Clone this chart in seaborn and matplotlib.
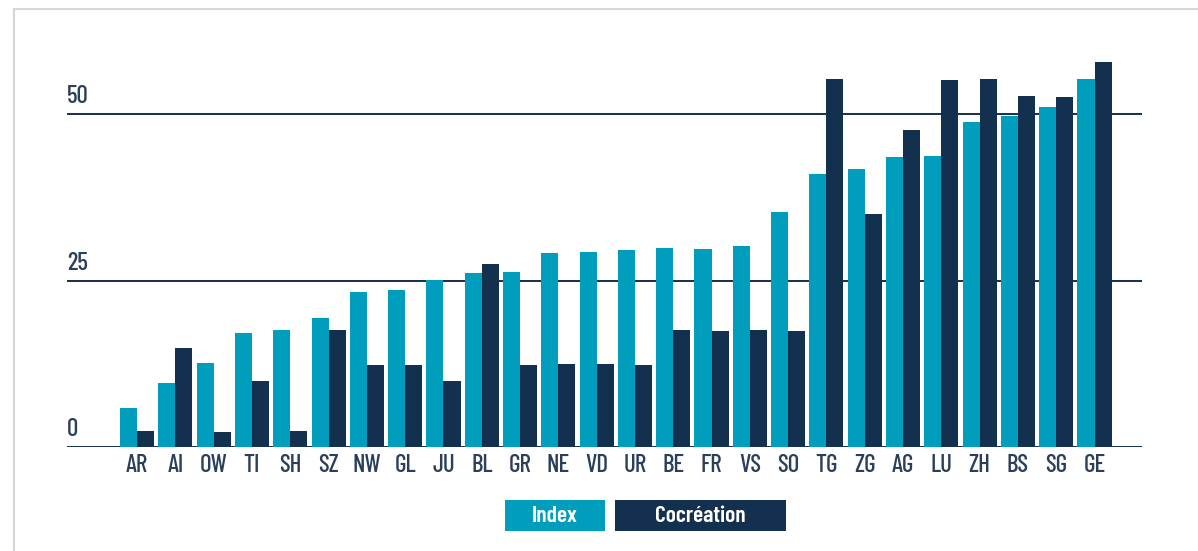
import matplotlib
matplotlib.use("Agg")
import matplotlib.pyplot as plt
import seaborn as sns
import pandas as pd
from matplotlib.patches import Rectangle
from matplotlib.lines import Line2D
from matplotlib import font_manager

cantons = ["AR", "AI", "OW", "TI", "SH", "SZ", "NW", "GL", "JU", "BL", "GR", "NE", "VD",
           "UR", "BE", "FR", "VS", "SO", "TG", "ZG", "AG", "LU", "ZH", "BS", "SG", "GE"]
index_vals = [5.9, 9.6, 12.6, 17.1, 17.6, 19.4, 23.3, 23.6, 25.1, 26.1, 26.3, 29.1, 29.3,
              29.6, 29.9, 29.7, 30.2, 35.3, 41.0, 41.7, 43.5, 43.7, 48.8, 49.7, 51.0, 55.2]
cocreation_vals = [2.4, 14.9, 2.3, 9.9, 2.4, 17.6, 12.3, 12.3, 9.9, 27.5, 12.3, 12.5, 12.5,
                   12.3, 17.6, 17.4, 17.6, 17.4, 55.2, 35.0, 47.6, 55.1, 55.2, 52.7, 52.5, 57.8]
series_names = ["Index", "Cocréation"]
y_ticks = [0, 25, 50]

C_INDEX = "#009dbd"
C_COC = "#14304f"
C_TEXT = "#2c3f5a"

sns.set_style("white")
avail = {f.name for f in font_manager.fontManager.ttflist}
font = next(f for f in ["Barlow Condensed", "Roboto Condensed", "IBM Plex Sans Condensed",
                        "Oswald", "DejaVu Sans"] if f in avail)
plt.rcParams["font.family"] = [font, "DejaVu Sans"]

df = pd.DataFrame({
    "canton": cantons * 2,
    "value": index_vals + cocreation_vals,
    "serie": [series_names[0]] * len(cantons) + [series_names[1]] * len(cantons),
})

fig = plt.figure(figsize=(11.98, 5.51), dpi=100)
W, H = 1198, 551
ax = fig.add_axes([67 / W, (H - 447.3) / H, (1142 - 67) / W, 400.2 / H])

sns.barplot(data=df, x="canton", y="value", hue="serie", order=cantons,
            hue_order=series_names, palette=[C_INDEX, C_COC], width=0.89,
            gap=0, saturation=1, edgecolor="none", linewidth=0, legend=False,
            ax=ax, zorder=3)

ax.set_xlim(-1.83, 26.24)
ax.set_ylim(0, 60)
for t in y_ticks:
    ax.axhline(t, color=C_COC, lw=1.4, zorder=1)
    ax.text(0, t + 0.9, str(t), transform=ax.get_yaxis_transform(), ha="left",
            va="bottom", fontsize=18, color=C_TEXT, fontweight=500)
ax.set_yticks([])
ax.set_xlabel("")
ax.set_ylabel("")
ax.tick_params(axis="x", length=0, pad=5, labelsize=18, labelcolor=C_TEXT)
for lab in ax.get_xticklabels():
    lab.set_fontweight(500)
for s in ax.spines.values():
    s.set_visible(False)

# figure frame (top and left edges only)
fc = "#d5d6dc"
fig.add_artist(Line2D([14 / W, 1], [(H - 9) / H] * 2, transform=fig.transFigure,
                      color=fc, lw=1.5))
fig.add_artist(Line2D([14 / W] * 2, [0, (H - 9) / H], transform=fig.transFigure,
                      color=fc, lw=1.5))

# legend boxes
boxes = [(505, 605, C_INDEX), (615, 786, C_COC)]
for (x0, x1, c), name in zip(boxes, series_names):
    fig.patches.append(Rectangle((x0 / W, (H - 531) / H), (x1 - x0) / W, 31 / H,
                                 transform=fig.transFigure, facecolor=c, edgecolor="none"))
    fig.text((x0 + x1) / 2 / W, (H - 516) / H, name, ha="center", va="center",
             color="white", fontsize=17, fontweight=600)

fig.savefig("out.png", dpi=100)
